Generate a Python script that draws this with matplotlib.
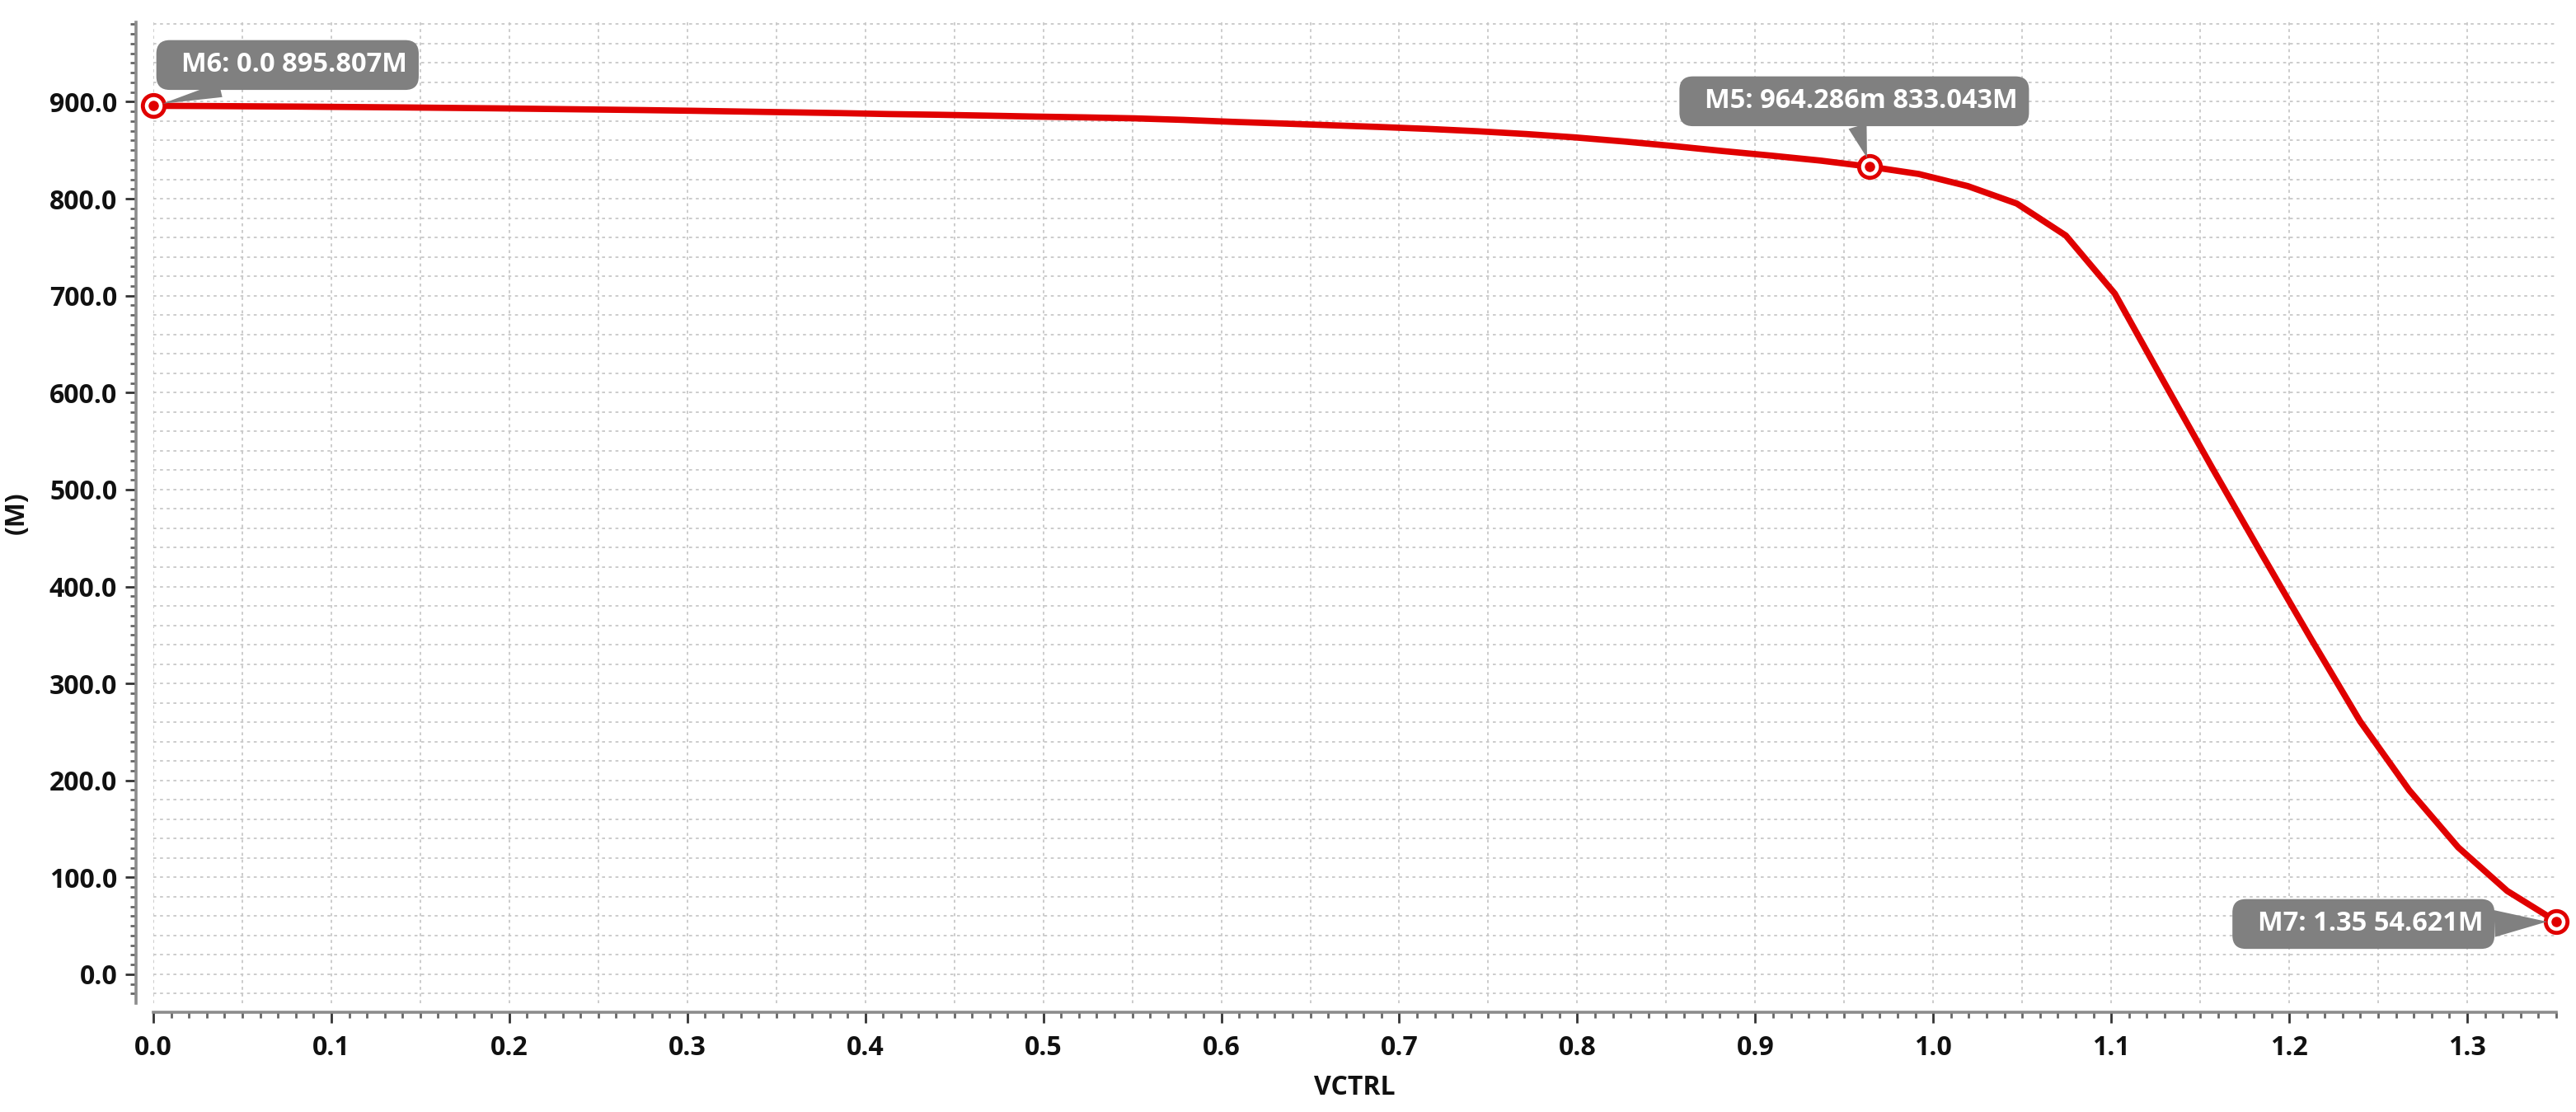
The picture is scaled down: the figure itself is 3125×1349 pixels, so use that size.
import matplotlib
matplotlib.use("Agg")
import matplotlib.pyplot as plt
from matplotlib.ticker import MultipleLocator, FormatStrFormatter
import numpy as np

# sweep of VCTRL (50 points from 0 to 1.35 V)
vctrl = np.linspace(0.0, 1.35, 50)
freq = [895.807, 895.6, 895.3, 895.0, 894.6, 894.2, 893.7, 893.2, 892.6, 892.0,
        891.4, 890.7, 889.9, 889.1, 888.3, 887.3, 886.6, 885.7, 884.7, 883.9,
        882.9, 881.3, 879.3, 877.6, 875.8, 874.0, 872.0, 869.6, 866.7, 863.2,
        859.0, 854.3, 849.2, 844.4, 839.3, 833.043, 825.5, 813.0, 795.0, 762.0,
        702.0, 611.0, 521.0, 433.0, 346.0, 261.0, 190.0, 131.0, 86.0, 54.621]

marker_names = ["M6", "M5", "M7"]
marker_x = [0.0, 0.964286, 1.35]
marker_y = [895.807, 833.043, 54.621]
marker_text = ["M6: 0.0 895.807M", "M5: 964.286m 833.043M", "M7: 1.35 54.621M"]

plt.rcParams["font.family"] = ["Open Sans", "DejaVu Sans"]
plt.rcParams["font.weight"] = "bold"
plt.rcParams["font.size"] = 23
red = "#e00000"
box_gray = "#808080"

fig = plt.figure(figsize=(31.25, 13.49), dpi=100)
ax = fig.add_axes([0.05952, 0.09785, 0.93280, 0.88213])

ax.set_xlim(0, 1.35)
ax.set_ylim(-29.8, 982)

# dotted grid every 0.05 / 20
for gx in np.arange(0.0, 1.35, 0.05):
    ax.axvline(gx, color="#c8c8c8", lw=1.3, ls=(0, (2, 2.5)), zorder=0)
for gy in np.arange(-20, 981, 20):
    ax.axhline(gy, color="#c8c8c8", lw=1.3, ls=(0, (2, 2.5)), zorder=0)

ax.plot(vctrl, freq, color=red, lw=5.5, zorder=3)

# markers
ax.plot(marker_x, marker_y, ls="none", marker="o", ms=19, mfc="white",
        mec=red, mew=3.5, zorder=4, clip_on=False)
ax.plot(marker_x, marker_y, ls="none", marker="o", ms=8, mfc=red,
        mec=red, zorder=5, clip_on=False)

# callouts (box centres)
text_pos = [(0.0754, 937.9), (0.9556, 900.5), (1.2417, 51.9)]
rel = [(0.42, 0.0), (0.5, 0.0), (1.0, 0.5)]
tails = [0.55, 0.7, 1.0]
for i in range(len(marker_names)):
    ax.annotate("  " + marker_text[i], xy=(marker_x[i], marker_y[i]), xytext=text_pos[i],
                textcoords="data", ha="center", va="center", color="white",
                fontsize=23.5, fontweight="bold", zorder=6,
                annotation_clip=False,
                bbox=dict(boxstyle="round,pad=0.42,rounding_size=0.5",
                          fc=box_gray, ec="none"),
                arrowprops=dict(arrowstyle="wedge,tail_width=%s,shrink_factor=0.5" % tails[i],
                                fc=box_gray, ec="none", shrinkA=0, shrinkB=8,
                                relpos=rel[i]))

# axes styling
for s in ["top", "right"]:
    ax.spines[s].set_visible(False)
ax.spines["left"].set_position(("outward", 15))
ax.spines["bottom"].set_position(("outward", 8))
for s in ["left", "bottom"]:
    ax.spines[s].set_color("#8c8c8c")
    ax.spines[s].set_linewidth(2.6)

ax.xaxis.set_major_locator(MultipleLocator(0.1))
ax.xaxis.set_minor_locator(MultipleLocator(0.01))
ax.yaxis.set_major_locator(MultipleLocator(100))
ax.yaxis.set_minor_locator(MultipleLocator(10))
ax.xaxis.set_major_formatter(FormatStrFormatter("%.1f"))
ax.yaxis.set_major_formatter(FormatStrFormatter("%.1f"))

ax.tick_params(which="major", direction="out", length=9.5, width=2, color="#333333",
               labelsize=23, labelcolor="#111111")
ax.tick_params(which="minor", direction="out", length=5, width=2, color="#666666")
ax.tick_params(axis="x", which="major", pad=10)
ax.tick_params(axis="y", which="major", pad=7)

ax.set_xlabel("VCTRL", fontweight="bold", fontsize=23, color="#111111")
ax.set_ylabel("(M)", fontweight="bold", fontsize=23, color="#111111")
ax.xaxis.set_label_coords(0.5, -0.0723)
ax.yaxis.set_label_coords(-0.0511, 0.5)

fig.savefig("out.png", dpi=100)
